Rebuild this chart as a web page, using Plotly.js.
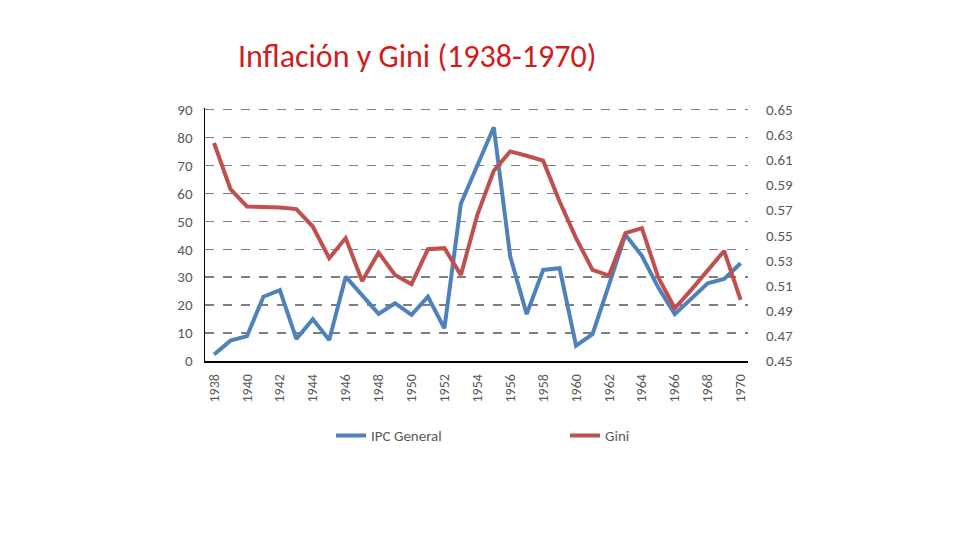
<!DOCTYPE html>
<html>
<head>
<meta charset="utf-8">
<script src="https://cdn.plot.ly/plotly-3.0.1.min.js"></script>
<style>html,body{margin:0;padding:0;background:#fff;}#chart{width:960px;height:540px;}</style>
</head>
<body>
<div id="chart"></div>
<script>
var years = [1938,1939,1940,1941,1942,1943,1944,1945,1946,1947,1948,1949,1950,1951,1952,1953,1954,1955,1956,1957,1958,1959,1960,1961,1962,1963,1964,1965,1966,1967,1968,1969,1970];
var ipcGeneral = [2.3,7.3,8.9,23.0,25.4,7.9,15.0,7.5,30.2,23.5,16.9,20.7,16.5,23.0,11.7,56.3,70.0,83.7,37.4,16.8,32.6,33.2,5.5,9.6,27.3,45.2,37.7,26.3,16.8,22.4,27.8,29.4,35.0];
var gini = [0.6235,0.5868,0.5730,0.5730,0.5722,0.5709,0.5570,0.5318,0.5478,0.5137,0.5363,0.5185,0.5111,0.5390,0.5398,0.5185,0.5663,0.6014,0.6168,0.6133,0.6094,0.5769,0.5478,0.5225,0.5180,0.5517,0.5557,0.5164,0.4920,0.5066,0.5220,0.5376,0.4986];
var seriesNames = ["IPC General","Gini"];
var titleText = "Inflación y Gini (1938-1970)";

var traces = [
  {x: years, y: ipcGeneral, name: seriesNames[0], type: "scatter", mode: "lines",
   line: {color: "#4f81bd", width: 4}, yaxis: "y"},
  {x: years, y: gini, name: seriesNames[1], type: "scatter", mode: "lines",
   line: {color: "#c0504d", width: 4}, yaxis: "y2"}
];

var fam = "Carlito, 'Open Sans', 'Liberation Sans', sans-serif";
var tickFont = {family: fam, size: 15, color: "#595959"};
var pad = 90.6 / 90;

var layout = {
  width: 960, height: 540,
  paper_bgcolor: "#fff", plot_bgcolor: "#fff",
  margin: {l: 205, r: 212, t: 361 - 251 * pad, b: 179, autoexpand: false},
  showlegend: true,
  title: {text: titleText, x: 238/960, xanchor: "left", xref: "container",
          y: 1 - 56/540, yanchor: "middle", yref: "container",
          font: {family: fam, size: 32, color: "#d01c1c"}},
  xaxis: {range: [1937.45, 1970.45], dtick: 2, tick0: 1938, tickangle: -90,
          showgrid: false, zeroline: false, showline: true, linecolor: "#000", linewidth: 1.5,
          ticks: "", tickfont: {family: fam, size: 14, color: "#595959"}, ticklabelstandoff: 6, fixedrange: true},
  yaxis: {range: [0, 90 * pad], tickvals: [0,10,20,30,40,50,60,70,80,90], showgrid: true, gridcolor: "#7f7f7f", griddash: "dash", gridwidth: 1.5,
          zeroline: false, showline: true, linecolor: "#000", linewidth: 1.5, ticks: "", mirror: false,
          tickfont: tickFont, ticklabelstandoff: 8},
  yaxis2: {range: [0.45, 0.45 + 0.2 * pad], tickvals: [0.45,0.47,0.49,0.51,0.53,0.55,0.57,0.59,0.61,0.63,0.65], overlaying: "y", side: "right",
           showgrid: false, zeroline: false, showline: false, ticks: "", tickformat: ".2f",
           tickfont: tickFont, ticklabelstandoff: 17},
  legend: {orientation: "h", x: (331-205)/543, xanchor: "left",
           y: -0.295, yanchor: "middle",
           entrywidth: 189, entrywidthmode: "pixels",
           font: {family: fam, size: 15, color: "#595959"}}
};

Plotly.newPlot("chart", traces, layout, {displayModeBar: false, staticPlot: true});
</script>
</body>
</html>
